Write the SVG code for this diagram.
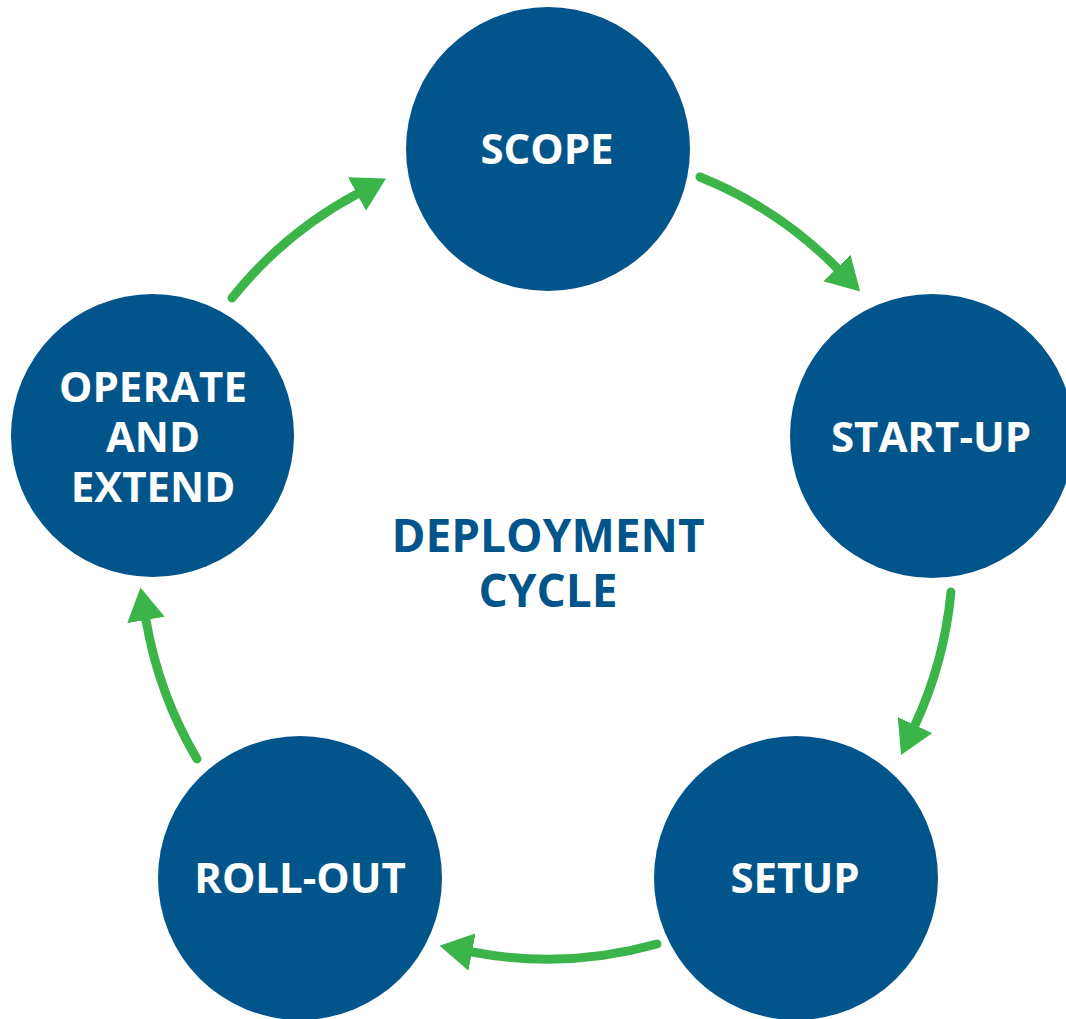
<svg xmlns="http://www.w3.org/2000/svg" width="1066" height="1019" viewBox="0 0 1066 1019">
  <style>
    .node { fill: #02558B; }
    .label { fill: #FFFFFF; font-family: "Open Sans", "Noto Sans", "Liberation Sans", sans-serif; font-weight: 700; font-size: 42px; text-anchor: middle; }
    .title { fill: #02558B; font-family: "Open Sans", "Noto Sans", "Liberation Sans", sans-serif; font-weight: 700; font-size: 46px; text-anchor: middle; }
    .flow { fill: none; stroke: #3BB54A; stroke-width: 9; stroke-linecap: round; marker-end: url(#head); }
  </style>
  <defs>
    <marker id="head" markerUnits="userSpaceOnUse" markerWidth="34" markerHeight="38" refX="0" refY="19" orient="auto" viewBox="0 0 34 38">
      <path d="M0,0 L33,19 L0,38 Z" fill="#3BB54A"/>
    </marker>
  </defs>
  <rect width="1066" height="1019" fill="#FFFFFF"/>

  <g id="connectors">
    <path class="flow" d="M700,177 A406,406 0 0 1 837,268"/>
    <path class="flow" d="M951,592 A406,406 0 0 1 915,725"/>
    <path class="flow" d="M657,944 A406,406 0 0 1 472,952"/>
    <path class="flow" d="M197,759 A406,406 0 0 1 146,620"/>
    <path class="flow" d="M232,298 A406,406 0 0 1 357,194"/>
  </g>

  <g id="scope">
    <circle class="node" cx="548" cy="149" r="142"/>
    <text class="label" x="547" y="164">SCOPE</text>
  </g>
  <g id="start-up">
    <circle class="node" cx="932" cy="436" r="142"/>
    <text class="label" x="931" y="452">START-UP</text>
  </g>
  <g id="setup">
    <circle class="node" cx="796" cy="878" r="142"/>
    <text class="label" x="795" y="893">SETUP</text>
  </g>
  <g id="roll-out">
    <circle class="node" cx="300" cy="878" r="142"/>
    <text class="label" x="300" y="893">ROLL-OUT</text>
  </g>
  <g id="operate-and-extend">
    <circle class="node" cx="152.5" cy="435.5" r="141.5"/>
    <text class="label" x="153" y="402">OPERATE</text>
    <text class="label" x="153" y="452">AND</text>
    <text class="label" x="153" y="502">EXTEND</text>
  </g>

  <g id="deployment-cycle">
    <text class="title" x="548" y="552">DEPLOYMENT</text>
    <text class="title" x="548" y="607">CYCLE</text>
  </g>
</svg>
